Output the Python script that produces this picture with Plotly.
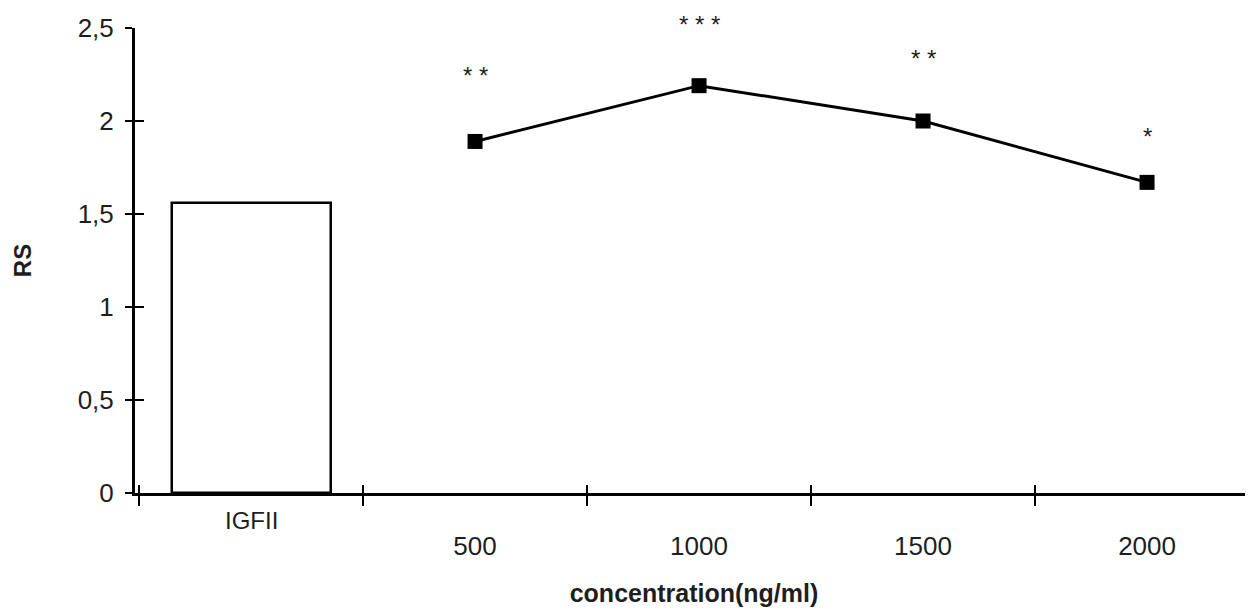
import plotly.graph_objects as go

categories = ["IGFII", "500", "1000", "1500", "2000"]
bar_category = ["IGFII"]
bar_values = [1.56]
line_categories = ["500", "1000", "1500", "2000"]
line_values = [1.89, 2.19, 2.00, 1.67]
significance = ["* *", "* * *", "* *", "*"]
y_tickvals = [0, 0.5, 1, 1.5, 2, 2.5]
y_ticktext = ["0", "0,5", "1", "1,5", "2", "2,5"]

FONT = "Liberation Sans, Arial, sans-serif"
TXT = "#1e1e1e"

fig = go.Figure()
fig.add_trace(go.Bar(
    x=bar_category, y=bar_values, width=0.71,
    marker=dict(color="white", line=dict(color="black", width=2.5)),
    showlegend=False, hoverinfo="skip",
))
fig.add_trace(go.Scatter(
    x=line_categories, y=line_values, mode="lines+markers",
    line=dict(color="black", width=3),
    marker=dict(symbol="square", size=15, color="black"),
    showlegend=False, cliponaxis=False,
))
# invisible helper trace so the overlay axes (crossing tick marks) render
fig.add_trace(go.Scatter(
    x=categories, y=[None] * len(categories), xaxis="x2", yaxis="y2",
    mode="markers", showlegend=False, hoverinfo="skip",
))

shifts = [66, 61, 63, 46]
for c, v, s, sh in zip(line_categories, line_values, significance, shifts):
    fig.add_annotation(x=categories.index(c), y=v, xref="x", yref="y", text=s,
                       showarrow=False, yshift=sh, borderpad=0,
                       font=dict(family=FONT, size=24, color=TXT))

# IGFII label sits higher than the numeric labels
fig.add_annotation(x=categories.index(bar_category[0]), y=0, xref="x", yref="y",
                   text=bar_category[0], showarrow=False, yshift=-27,
                   font=dict(family=FONT, size=24, color=TXT))

xrange = [-0.518, 4.473]
fig.update_layout(
    width=1245, height=604,
    margin=dict(l=127, r=0, t=20, b=119),
    plot_bgcolor="white", paper_bgcolor="white",
    bargap=0,
    font=dict(family=FONT, color=TXT),
    xaxis=dict(
        type="category", categoryorder="array", categoryarray=categories,
        range=xrange,
        tickmode="array", tickvals=categories,
        ticktext=[""] + categories[1:],
        tickson="boundaries", ticks="outside", ticklen=10, tickwidth=1.5, tickcolor="black",
        ticklabelstandoff=28,
        showline=True, linecolor="black", linewidth=3,
        showgrid=False, zeroline=False,
        tickfont=dict(size=26, family=FONT, color=TXT),
        title=dict(text="<b>concentration(ng/ml)</b>",
                   font=dict(size=25, family=FONT, color=TXT), standoff=25),
    ),
    xaxis2=dict(
        type="category", categoryorder="array", categoryarray=categories,
        range=xrange, overlaying="x", anchor="y", side="bottom",
        tickmode="array", tickvals=categories, ticktext=[""] * len(categories),
        tickson="boundaries", ticks="inside", ticklen=8, tickwidth=1.5, tickcolor="black",
        showline=False, showgrid=False, zeroline=False,
    ),
    yaxis=dict(
        range=[0, 2.5],
        tickmode="array", tickvals=y_tickvals, ticktext=y_ticktext,
        ticks="outside", ticklen=7, tickwidth=2, tickcolor="black",
        ticklabelstandoff=6,
        showline=True, linecolor="black", linewidth=3,
        showgrid=False, zeroline=False,
        tickfont=dict(size=26, family=FONT, color=TXT),
        title=dict(text="<b>RS</b>", font=dict(size=24, family=FONT, color=TXT), standoff=40),
    ),
    yaxis2=dict(
        range=[0, 2.5], overlaying="y", anchor="x", side="left",
        tickmode="array", tickvals=y_tickvals, ticktext=[""] * len(y_tickvals),
        ticks="inside", ticklen=9, tickwidth=2, tickcolor="black",
        showline=False, showgrid=False, zeroline=False,
    ),
)

fig.write_html("out.html")
